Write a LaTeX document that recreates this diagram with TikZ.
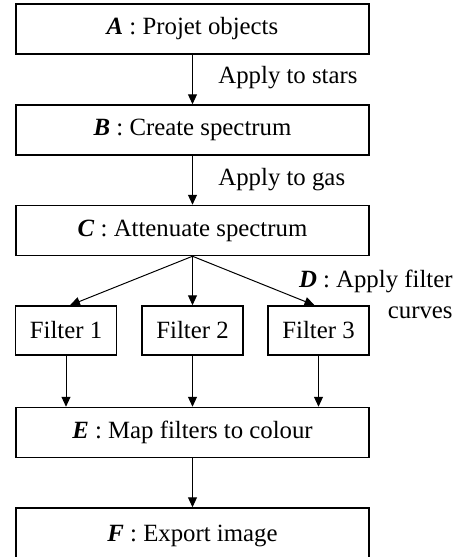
\documentclass[tikz,border=0pt]{standalone}
\usepackage{fontspec}
\setmainfont{Liberation Serif}
\usetikzlibrary{arrows.meta,positioning}
\newcommand{\stepname}[1]{\textbf{\textit{#1}}}

\begin{document}
\begin{tikzpicture}
[x=.5pt,y=-.5pt,
    font=\fontsize{12.4pt}{15.5pt}\selectfont,
    proc/.style={draw,line width=.75pt,minimum width=176.5pt,minimum height=25pt,inner sep=0pt},
    filt/.style={draw,line width=.75pt,minimum width=50.5pt,minimum height=24.5pt,inner sep=0pt},
    lab/.style={inner sep=0pt},
myedge/.style={-{Triangle[length=5pt,width=4.5pt]},line width=.5pt}]
\useasboundingbox (0,0) rectangle (463,557);
%%%%%%%%%%
%%%%% main chain of steps
\node (A) [proc] at (192.5,29) {\stepname{A} : Projet objects};
\node (B) [proc] at (192.5,130) {\stepname{B} : Create spectrum};
\node (C) [proc] at (192.5,230.5) {\stepname{C} : Attenuate spectrum};
%% filters
\node (f1) [filt] at (66,330.5) {Filter 1};
\node (f2) [filt] at (192.5,330.5) {Filter 2};
\node (f3) [filt] at (318.5,330.5) {Filter 3};
%%
\node (E) [proc] at (192.5,432.5) {\stepname{E} : Map filters to colour};
\node (F) [proc,minimum height=28pt] at (192.5,536) {\stepname{F} : Export image};
%% labels
\node (lstars) [lab,anchor=west] at (218,78) {Apply to stars};
\node (lgas) [lab,anchor=west] at (218,180) {Apply to gas};
\node (lD) [lab,anchor=north east,align=right] at (453,270) {\stepname{D} : Apply filter\\curves};
%% edges
\draw [myedge] (A) -- (B);
\draw [myedge] (B) -- (C);
\draw [myedge] (C.south) -- ([xshift=2pt]f1.north);
\draw [myedge] (C.south) -- (f2.north);
\draw [myedge] (C.south) -- ([xshift=-2pt]f3.north);
\draw [myedge] (f1) -- (f1|-E.north);
\draw [myedge] (f2) -- (f2|-E.north);
\draw [myedge] (f3) -- (f3|-E.north);
\draw [myedge] (E) -- (F);
\end{tikzpicture}
\end{document}
